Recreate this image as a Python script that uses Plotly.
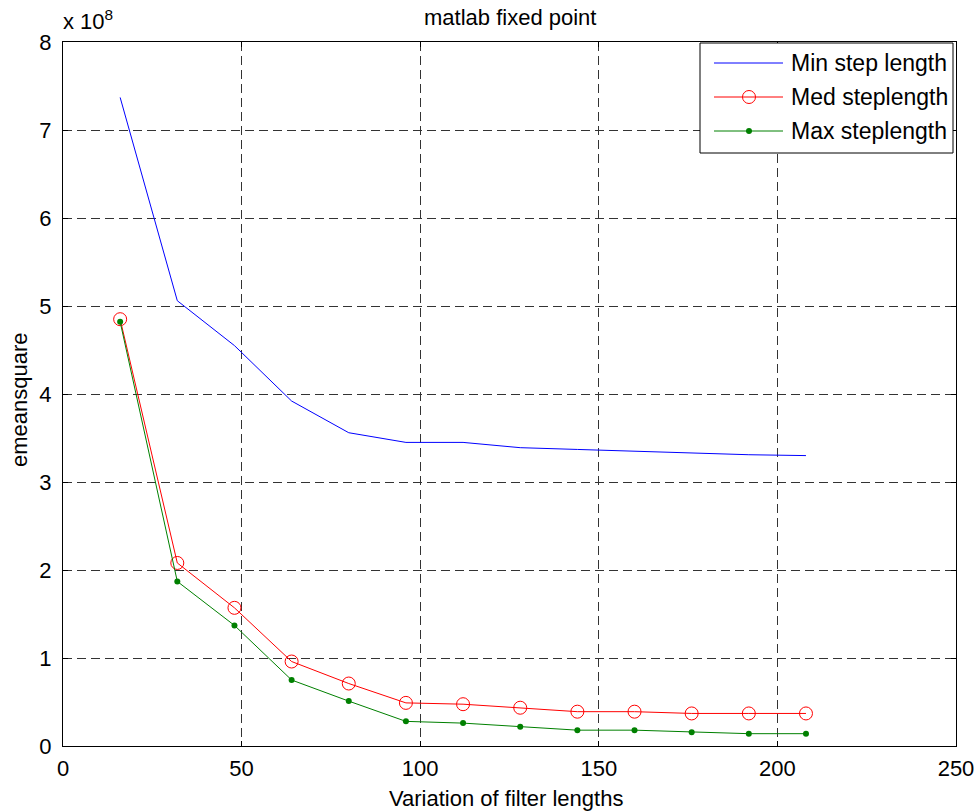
import plotly.graph_objects as go

# Filter lengths evaluated
filter_lengths = [16, 32, 48, 64, 80, 96, 112, 128, 144, 160, 176, 192, 208]

# Mean-square error for each step-length setting
emse_min_step = [7.37e8, 5.06e8, 4.55e8, 3.92e8, 3.56e8, 3.45e8, 3.45e8,
                 3.39e8, 3.37e8, 3.35e8, 3.33e8, 3.31e8, 3.30e8]
emse_med_step = [4.85e8, 2.08e8, 1.57e8, 0.96e8, 0.71e8, 0.49e8, 0.475e8,
                 0.435e8, 0.39e8, 0.39e8, 0.37e8, 0.37e8, 0.37e8]
emse_max_step = [4.82e8, 1.87e8, 1.37e8, 0.75e8, 0.51e8, 0.28e8, 0.26e8,
                 0.22e8, 0.18e8, 0.18e8, 0.157e8, 0.14e8, 0.14e8]

x_ticks = [0, 50, 100, 150, 200, 250]
y_ticks = [i * 1e8 for i in range(9)]
y_tick_labels = [str(i) for i in range(9)]

series_names = ["Min step length", "Med steplength", "Max steplength"]

FONT = "Liberation Sans, Arial, Helvetica, sans-serif"
FS = 22
W, H = 979, 811
L, R, T, B = 63, 23, 42, 65
PW, PH = W - L - R, H - T - B


def px_x(p):
    """Figure pixel column -> paper x."""
    return (p - L) / PW


def px_y(p):
    """Figure pixel row -> paper y."""
    return (H - B - p) / PH


fig = go.Figure()
fig.add_trace(go.Scatter(x=filter_lengths, y=emse_min_step, mode="lines",
                         name=series_names[0],
                         line=dict(color="#0000ff", width=1)))
fig.add_trace(go.Scatter(x=filter_lengths, y=emse_med_step, mode="lines+markers",
                         name=series_names[1],
                         line=dict(color="#ff0000", width=1),
                         marker=dict(symbol="circle-open", size=13,
                                     color="#ff0000", line=dict(width=1))))
fig.add_trace(go.Scatter(x=filter_lengths, y=emse_max_step, mode="lines+markers",
                         name=series_names[2],
                         line=dict(color="#008000", width=1),
                         marker=dict(symbol="circle", size=6, color="#008000")))

grid = dict(showgrid=True, gridcolor="#333333", gridwidth=1, griddash="9px,5px")
axis_common = dict(showline=True, linecolor="black", linewidth=1, mirror="ticks",
                   ticks="inside", ticklen=5, tickcolor="black", zeroline=False,
                   automargin=False,
                   tickfont=dict(family=FONT, size=FS, color="black"), **grid)

fig.update_xaxes(range=[0, 250], tickvals=x_ticks, ticklabelstandoff=3,
                 **axis_common)
fig.update_yaxes(range=[0, 8e8], tickvals=y_ticks, ticktext=y_tick_labels,
                 ticklabelstandoff=6, **axis_common)

annotations = [
    dict(text="matlab fixed point", x=px_x(510), y=px_y(18), xref="paper",
         yref="paper", xanchor="center", yanchor="middle", showarrow=False,
         font=dict(family=FONT, size=FS, color="black")),
    dict(text="Variation of filter lengths", x=px_x(506), y=px_y(798), xref="paper",
         yref="paper", xanchor="center", yanchor="middle", showarrow=False,
         font=dict(family=FONT, size=FS, color="black")),
    dict(text="emeansquare", x=px_x(19), y=px_y(400), xref="paper", yref="paper",
         xanchor="center", yanchor="middle", textangle=-90, showarrow=False,
         font=dict(family=FONT, size=FS, color="black")),
    dict(text="x 10<sup>8</sup>", x=px_x(61), y=px_y(20), xref="paper", yref="paper",
         xanchor="left", yanchor="middle", showarrow=False,
         font=dict(family=FONT, size=FS, color="black")),
]

# Legend box drawn in paper space
shapes = [dict(type="rect", xref="paper", yref="paper",
               x0=px_x(700), x1=px_x(953), y0=px_y(153), y1=px_y(43),
               line=dict(color="black", width=1), fillcolor="white", layer="above")]
legend_rows = [63, 97, 131]
legend_colors = ["#0000ff", "#ff0000", "#008000"]
for row, name, col in zip(legend_rows, series_names, legend_colors):
    shapes.append(dict(type="line", xref="paper", yref="paper",
                       x0=px_x(714), x1=px_x(783), y0=px_y(row), y1=px_y(row),
                       line=dict(color=col, width=1), layer="above"))
    annotations.append(dict(text=name, x=px_x(789), y=px_y(row), xref="paper",
                            yref="paper", xanchor="left", yanchor="middle",
                            showarrow=False,
                            font=dict(family=FONT, size=23, color="black")))
# Legend marker samples
shapes.append(dict(type="circle", xref="paper", yref="paper",
                   xsizemode="pixel", ysizemode="pixel",
                   xanchor=px_x(749), yanchor=px_y(legend_rows[1]),
                   x0=-6.5, x1=6.5, y0=-6.5, y1=6.5,
                   line=dict(color="#ff0000", width=1), fillcolor="rgba(0,0,0,0)",
                   layer="above"))
shapes.append(dict(type="circle", xref="paper", yref="paper",
                   xsizemode="pixel", ysizemode="pixel",
                   xanchor=px_x(749), yanchor=px_y(legend_rows[2]),
                   x0=-3, x1=3, y0=-3, y1=3,
                   line=dict(color="#008000", width=0), fillcolor="#008000",
                   layer="above"))

fig.update_layout(width=W, height=H, margin=dict(l=L, r=R, t=T, b=B),
                  paper_bgcolor="white", plot_bgcolor="white",
                  showlegend=False, annotations=annotations, shapes=shapes,
                  font=dict(family=FONT, size=FS, color="black"))

fig.write_html("out.html")
